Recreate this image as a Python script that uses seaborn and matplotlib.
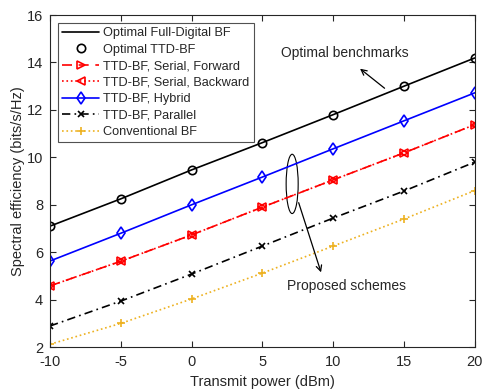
import numpy as np
import pandas as pd
import seaborn as sns
import matplotlib.pyplot as plt
from matplotlib.patches import Ellipse

power = [-10, -5, 0, 5, 10, 15, 20]
full_digital = [7.1, 8.25, 9.47, 10.62, 11.8, 13.0, 14.19]
optimal_ttd = [7.1, 8.25, 9.47, 10.62, 11.8, 13.0, 14.19]
serial_fwd = [4.58, 5.62, 6.73, 7.9, 9.05, 10.19, 11.38]
serial_bwd = [4.58, 5.62, 6.73, 7.9, 9.05, 10.19, 11.38]
hybrid = [5.63, 6.8, 8.0, 9.17, 10.36, 11.54, 12.72]
parallel = [2.89, 3.94, 5.08, 6.26, 7.44, 8.58, 9.8]
conventional = [2.12, 3.0, 4.03, 5.12, 6.26, 7.4, 8.6]
xtick_labels = ['-10', '-5', '0', '5', '10', '15', '20']

sns.set_style("ticks")
plt.rcParams['font.family'] = ['Liberation Sans', 'DejaVu Sans']

fig = plt.figure(figsize=(4.87, 3.9), dpi=100)
ax = fig.add_axes([0.1027, 0.110, 0.8723, 0.8515])

orange = '#EDB120'
series = [
    (full_digital, 'Optimal Full-Digital BF', 'k', '-', None, 6),
    (optimal_ttd, 'Optimal TTD-BF', 'k', 'None', 'o', 6),
    (serial_fwd, 'TTD-BF, Serial, Forward', 'r', (0, (6, 4)), '>', 6),
    (serial_bwd, 'TTD-BF, Serial, Backward', 'r', ':', '<', 6),
    (hybrid, 'TTD-BF, Hybrid', 'b', '-', 'd', 6),
    (parallel, 'TTD-BF, Parallel', 'k', (0, (5, 2.5, 1, 2.5)), 'x', 4.5),
    (conventional, 'Conventional BF', orange, ':', '+', 6),
]
for vals, name, col, ls, mk, ms in series:
    sns.lineplot(x=power, y=vals, ax=ax, color=col, linestyle=ls, marker=mk,
                 markersize=ms, markerfacecolor='none', markeredgecolor=col,
                 markeredgewidth=1.2, linewidth=1.2, label=name)

ax.set_xlim(-10, 20)
ax.set_ylim(2, 16)
ax.set_xticks(power)
ax.set_xticklabels(xtick_labels)
ax.set_yticks(range(2, 17, 2))
ax.tick_params(direction='in', top=True, right=True, labelsize=10.5,
               colors='#262626', length=4)
ax.tick_params(axis='x', pad=6)
ax.tick_params(axis='y', pad=5)
for sp in ax.spines.values():
    sp.set_color('#262626')
    sp.set_linewidth(0.8)
ax.set_xlabel('Transmit power (dBm)', fontsize=10.5, color='#262626', labelpad=4)
ax.set_ylabel('Spectral efficiency (bits/s/Hz)', fontsize=10.5, color='#262626', labelpad=1)

leg = ax.legend(loc='upper left', fontsize=9.2, frameon=True, fancybox=False,
                edgecolor='#262626', borderpad=0.35, labelspacing=0.35,
                handlelength=2.9, handletextpad=0.3, borderaxespad=0.6)
leg.get_frame().set_linewidth(0.8)

ax.add_patch(Ellipse((7.1, 8.88), 0.85, 2.5, fill=False, edgecolor='k', linewidth=0.8))
ax.annotate('', xy=(11.74, 13.81), xytext=(13.78, 12.84),
            arrowprops=dict(arrowstyle='->', color='k', lw=0.9, mutation_scale=10))
ax.text(10.8, 14.4, 'Optimal benchmarks', fontsize=10, ha='center', va='center', color='#262626')
ax.annotate('', xy=(9.2, 5.04), xytext=(7.5, 8.2),
            arrowprops=dict(arrowstyle='->', color='k', lw=0.9, mutation_scale=10))
ax.text(10.96, 4.57, 'Proposed schemes', fontsize=10, ha='center', va='center', color='#262626')

fig.savefig('out.png', dpi=100)
